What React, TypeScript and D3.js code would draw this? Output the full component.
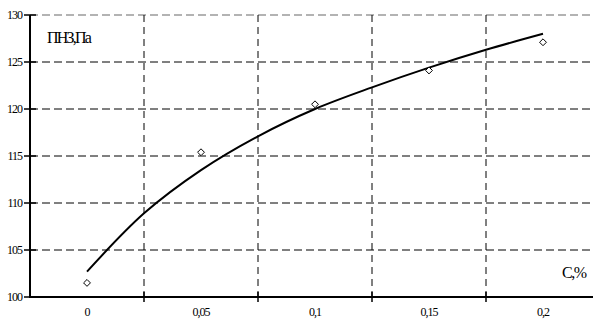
import React from 'react';
import * as d3 from 'd3';

// categories on the x axis (Excel-style category axis)
const categories = ['0', '0,05', '0,1', '0,15', '0,2'];
// measured points
const measured = [101.5, 115.4, 120.5, 124.1, 127.1];
// trend line, every half category
const trendPos = [0, 0.5, 1, 1.5, 2, 2.5, 3, 3.5, 4];
const trendVal = [102.7, 108.9, 113.5, 117.1, 120.0, 122.3, 124.4, 126.3, 128.0];
const yTicks = [100, 105, 110, 115, 120, 125, 130];

const W = 593;
const H = 322;
const font = '"Liberation Serif", "Times New Roman", serif';

export default function App() {
  const left = 30;
  const right = 600;
  const top = 15;
  const bottom = 297;

  const xBand = d3.scaleBand().domain(categories).range([left, right]).padding(0);
  const xIdx = d3.scaleLinear().domain([-0.5, categories.length - 0.5]).range([left, right]);
  const y = d3.scaleLinear().domain([100, 130]).range([bottom, top]);

  const line = d3
    .line<number>()
    .x((d, i) => xIdx(trendPos[i]))
    .y((d) => y(d))
    .curve(d3.curveCatmullRom.alpha(0.5));

  const boundaries = categories.slice(1).map((c) => xBand(c) as number);
  const diamond = d3.symbol().type(d3.symbolDiamond2).size(30)();

  return (
    <svg width={W} height={H} style={{ position: 'absolute', left: 0, top: 0, background: '#fff' }}>
      {/* horizontal grid */}
      {yTicks.slice(1).map((t) => (
        <line
          key={'h' + t}
          x1={left}
          x2={W}
          y1={y(t)}
          y2={y(t)}
          stroke={t === 130 ? '#9a9a9a' : '#000'}
          strokeWidth={t === 130 ? 1.5 : 1}
          strokeDasharray="8,4"
        />
      ))}
      {/* vertical grid */}
      {boundaries.map((b, i) => (
        <line key={'v' + i} x1={b} x2={b} y1={top} y2={bottom} stroke="#000" strokeWidth={1} strokeDasharray="7,5" />
      ))}

      {/* axes */}
      <line x1={left} x2={left} y1={top} y2={bottom + 1} stroke="#000" strokeWidth={2} />
      <line x1={left - 1} x2={W} y1={bottom} y2={bottom} stroke="#000" strokeWidth={2} />
      {yTicks.map((t) => (
        <g key={'yt' + t}>
          <line x1={left - 6} x2={left + 6} y1={y(t)} y2={y(t)} stroke="#000" strokeWidth={1.5} />
          <text x={left - 8} y={y(t) + 4} textAnchor="end" fontFamily={font} fontSize={12} letterSpacing={-1}>
            {t}
          </text>
        </g>
      ))}
      {boundaries.map((b, i) => (
        <line key={'xt' + i} x1={b} x2={b} y1={bottom - 5} y2={bottom + 5} stroke="#000" strokeWidth={1.5} />
      ))}
      {categories.map((c) => (
        <text
          key={'xl' + c}
          x={(xBand(c) as number) + xBand.bandwidth() / 2}
          y={316}
          textAnchor="middle"
          fontFamily={font}
          fontSize={12}
          letterSpacing={-1}
        >
          {c}
        </text>
      ))}

      {/* trend line */}
      <path d={line(trendVal) || ''} fill="none" stroke="#000" strokeWidth={2} />

      {/* measured points */}
      {measured.map((v, i) => (
        <path
          key={'p' + i}
          d={diamond || ''}
          transform={`translate(${(xBand(categories[i]) as number) + xBand.bandwidth() / 2},${y(v)})`}
          fill="#fff"
          stroke="#000"
          strokeWidth={1}
        />
      ))}

      {/* axis titles */}
      <text x={47} y={43} fontFamily={font} fontSize={16} letterSpacing={-1.8}>
        ПНЗ,Па
      </text>
      <text x={562} y={278} fontFamily={font} fontSize={16} letterSpacing={-1.5}>
        С,%
      </text>
    </svg>
  );
}
